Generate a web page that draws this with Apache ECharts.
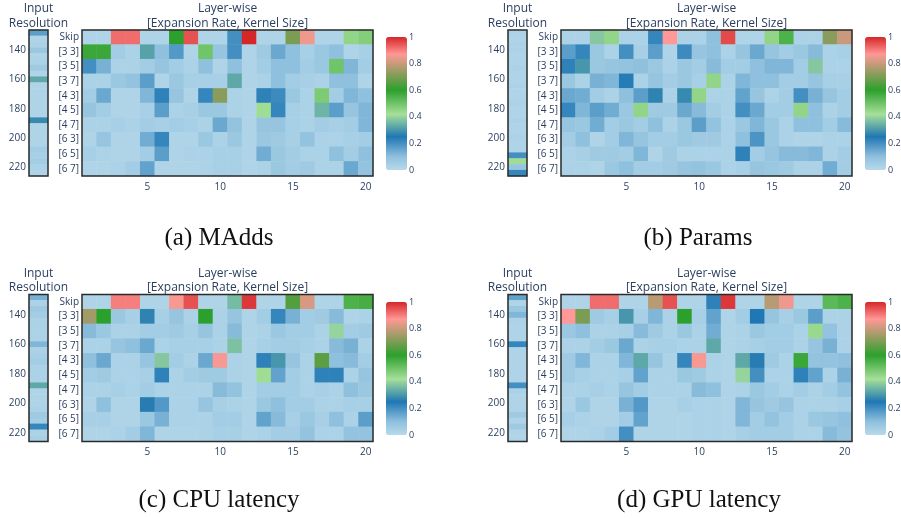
<!DOCTYPE html>
<html><head><meta charset="utf-8">
<script src="https://cdn.jsdelivr.net/npm/echarts/dist/echarts.min.js"></script>
<style>html,body{margin:0;padding:0;background:#fff}#c{width:901px;height:519px}</style>
</head><body><div id="c"></div><script>
// ---------- data ----------
const layers = ['1','2','3','4','5','6','7','8','9','10','11','12','13','14','15','16','17','18','19','20'];
const ops = ['Skip','[3 3]','[3 5]','[3 7]','[4 3]','[4 5]','[4 7]','[6 3]','[6 5]','[6 7]'];
const resolutions = [128,132,136,140,144,148,152,156,160,164,168,172,176,180,184,188,192,196,200,204,208,212,216,220,224];
const layerTicks = ['5','10','15','20'];
const resTicks = [140,160,180,200,220];
const colorbarTicks = [0,0.2,0.4,0.6,0.8,1];
const captions = ['(a) MAdds','(b) Params','(c) CPU latency','(d) GPU latency'];

const maddsRes = [0.17,0.02,0.03,0.07,0.02,0.03,0.06,0.02,0.33,0.02,0.02,0.02,0.02,0.02,0.02,0.28,0.02,0.02,0.02,0.02,0.05,0.04,0.05,0.03,0.02];
const maddsOps = [
 [0.02,0.02,0.92,0.92,0.02,0.02,0.6,0.95,0.02,0.02,0.2,1.0,0.02,0.02,0.7,0.85,0.02,0.02,0.45,0.47],
 [0.58,0.58,0.05,0.03,0.32,0.1,0.18,0.02,0.5,0.08,0.2,0.02,0.06,0.15,0.1,0.04,0.07,0.1,0.02,0.04],
 [0.2,0.13,0.03,0.03,0.05,0.08,0.05,0.03,0.1,0.02,0.1,0.02,0.05,0.1,0.1,0.05,0.07,0.5,0.12,0.05],
 [0.03,0.03,0.07,0.09,0.17,0.02,0.07,0.04,0.04,0.04,0.33,0.02,0.03,0.1,0.05,0.04,0.03,0.1,0.1,0.02],
 [0.05,0.15,0.02,0.02,0.12,0.23,0.08,0.02,0.22,0.72,0.03,0.02,0.23,0.21,0.07,0.03,0.48,0.05,0.12,0.1],
 [0.08,0.05,0.02,0.02,0.04,0.17,0.03,0.04,0.07,0.07,0.03,0.02,0.43,0.22,0.04,0.03,0.35,0.17,0.08,0.12],
 [0.03,0.03,0.04,0.03,0.05,0.04,0.05,0.04,0.03,0.15,0.09,0.02,0.08,0.08,0.04,0.03,0.05,0.04,0.05,0.12],
 [0.02,0.08,0.02,0.02,0.14,0.22,0.02,0.02,0.07,0.03,0.07,0.02,0.07,0.06,0.04,0.09,0.03,0.03,0.04,0.05],
 [0.04,0.03,0.02,0.02,0.05,0.17,0.02,0.03,0.03,0.04,0.04,0.02,0.14,0.07,0.05,0.03,0.03,0.1,0.05,0.1],
 [0.02,0.02,0.03,0.05,0.16,0.02,0.02,0.02,0.03,0.04,0.04,0.02,0.03,0.07,0.05,0.06,0.03,0.03,0.15,0.09]
];

const paramsRes = [0.03,0.02,0.03,0.03,0.02,0.02,0.03,0.02,0.02,0.03,0.02,0.02,0.03,0.02,0.02,0.03,0.02,0.02,0.03,0.02,0.02,0.2,0.43,0.08,0.22];
const paramsOps = [
 [0.03,0.03,0.38,0.45,0.03,0.03,0.22,0.87,0.03,0.03,0.1,0.96,0.02,0.02,0.45,0.55,0.03,0.03,0.72,0.8],
 [0.17,0.22,0.07,0.03,0.2,0.04,0.17,0.02,0.21,0.08,0.1,0.03,0.08,0.15,0.08,0.05,0.07,0.11,0.03,0.04],
 [0.23,0.3,0.07,0.08,0.09,0.1,0.07,0.03,0.07,0.05,0.11,0.05,0.05,0.1,0.12,0.12,0.05,0.38,0.03,0.03],
 [0.07,0.03,0.13,0.12,0.24,0.03,0.08,0.05,0.07,0.04,0.45,0.03,0.12,0.1,0.1,0.05,0.05,0.08,0.04,0.04],
 [0.15,0.14,0.05,0.03,0.1,0.17,0.27,0.03,0.28,0.45,0.03,0.03,0.16,0.08,0.03,0.05,0.2,0.13,0.08,0.05],
 [0.22,0.12,0.17,0.14,0.07,0.45,0.06,0.06,0.15,0.11,0.05,0.03,0.2,0.15,0.05,0.05,0.45,0.1,0.03,0.05],
 [0.08,0.07,0.14,0.05,0.07,0.05,0.1,0.03,0.07,0.17,0.09,0.03,0.07,0.12,0.07,0.03,0.1,0.1,0.05,0.11],
 [0.05,0.1,0.02,0.05,0.12,0.08,0.05,0.05,0.07,0.06,0.06,0.03,0.1,0.19,0.07,0.03,0.02,0.02,0.03,0.03],
 [0.03,0.04,0.06,0.06,0.05,0.12,0.02,0.06,0.03,0.03,0.03,0.03,0.23,0.05,0.08,0.11,0.11,0.12,0.03,0.05],
 [0.03,0.03,0.02,0.07,0.1,0.05,0.05,0.06,0.08,0.09,0.07,0.03,0.04,0.08,0.07,0.06,0.03,0.03,0.14,0.05]
];

const cpuRes = [0.13,0.03,0.06,0.05,0.03,0.03,0.03,0.03,0.12,0.03,0.04,0.05,0.03,0.03,0.03,0.33,0.02,0.02,0.02,0.03,0.06,0.05,0.22,0.03,0.04];
const cpuOps = [
 [0.02,0.02,0.9,0.9,0.02,0.02,0.86,0.95,0.02,0.02,0.36,0.98,0.02,0.02,0.65,0.82,0.02,0.02,0.55,0.56],
 [0.75,0.6,0.07,0.04,0.27,0.04,0.08,0.03,0.6,0.03,0.08,0.02,0.05,0.22,0.13,0.05,0.06,0.11,0.02,0.03],
 [0.11,0.07,0.03,0.03,0.05,0.05,0.06,0.04,0.08,0.03,0.11,0.02,0.03,0.07,0.05,0.05,0.03,0.4,0.05,0.06],
 [0.03,0.03,0.08,0.1,0.15,0.03,0.04,0.04,0.04,0.03,0.37,0.02,0.04,0.05,0.05,0.04,0.03,0.11,0.13,0.03],
 [0.1,0.15,0.03,0.03,0.08,0.38,0.05,0.03,0.15,0.86,0.03,0.02,0.23,0.3,0.08,0.03,0.66,0.1,0.11,0.05],
 [0.05,0.06,0.03,0.03,0.04,0.23,0.03,0.05,0.06,0.06,0.03,0.02,0.43,0.16,0.05,0.03,0.23,0.23,0.03,0.08],
 [0.03,0.03,0.04,0.03,0.05,0.03,0.03,0.03,0.03,0.11,0.09,0.02,0.05,0.05,0.05,0.03,0.04,0.03,0.1,0.07],
 [0.02,0.1,0.02,0.02,0.26,0.18,0.03,0.03,0.08,0.04,0.03,0.02,0.07,0.1,0.05,0.05,0.03,0.03,0.04,0.04],
 [0.04,0.04,0.02,0.02,0.07,0.13,0.03,0.03,0.03,0.05,0.05,0.02,0.16,0.11,0.04,0.07,0.04,0.1,0.03,0.17],
 [0.02,0.02,0.03,0.05,0.12,0.02,0.02,0.02,0.03,0.04,0.04,0.02,0.03,0.05,0.05,0.09,0.03,0.03,0.09,0.09]
];

const gpuRes = [0.16,0.02,0.07,0.12,0.03,0.02,0.02,0.02,0.22,0.02,0.02,0.02,0.02,0.02,0.02,0.2,0.03,0.02,0.02,0.02,0.06,0.02,0.06,0.02,0.02];
const gpuOps = [
 [0.02,0.02,0.92,0.92,0.02,0.02,0.78,0.95,0.02,0.02,0.23,0.98,0.02,0.02,0.78,0.85,0.02,0.02,0.53,0.55],
 [0.87,0.7,0.06,0.04,0.3,0.04,0.12,0.03,0.6,0.04,0.16,0.02,0.05,0.25,0.08,0.04,0.07,0.17,0.03,0.03],
 [0.07,0.1,0.03,0.03,0.04,0.11,0.06,0.03,0.07,0.03,0.14,0.02,0.03,0.07,0.05,0.05,0.03,0.44,0.09,0.03],
 [0.03,0.03,0.05,0.07,0.15,0.03,0.04,0.04,0.03,0.03,0.33,0.02,0.03,0.04,0.05,0.05,0.03,0.08,0.13,0.03],
 [0.06,0.12,0.03,0.03,0.12,0.33,0.08,0.03,0.22,0.86,0.03,0.02,0.33,0.26,0.06,0.03,0.58,0.09,0.09,0.1],
 [0.06,0.04,0.03,0.03,0.04,0.16,0.03,0.03,0.07,0.06,0.03,0.02,0.4,0.2,0.03,0.03,0.23,0.16,0.03,0.13],
 [0.03,0.03,0.04,0.03,0.08,0.05,0.03,0.03,0.03,0.11,0.1,0.02,0.03,0.07,0.05,0.03,0.05,0.03,0.05,0.09],
 [0.02,0.07,0.02,0.02,0.13,0.18,0.02,0.02,0.04,0.03,0.03,0.02,0.12,0.08,0.06,0.08,0.03,0.03,0.03,0.04],
 [0.04,0.03,0.02,0.02,0.05,0.16,0.02,0.02,0.02,0.03,0.03,0.02,0.12,0.05,0.09,0.05,0.03,0.07,0.08,0.1],
 [0.02,0.02,0.03,0.05,0.2,0.02,0.02,0.02,0.02,0.03,0.03,0.02,0.04,0.05,0.05,0.05,0.03,0.03,0.11,0.09]
];

// ---------- style ----------
const colorStops = [[0,'#b7d9ea'],[0.1,'#8fc0dd'],[0.25,'#1f77b4'],[0.42,'#a6e09a'],[0.6,'#2ca02c'],[0.87,'#ff9896'],[1,'#d62728']];
function h2r(h){return [parseInt(h.slice(1,3),16),parseInt(h.slice(3,5),16),parseInt(h.slice(5,7),16)];}
function scaleColor(v){
  for(let i=1;i<colorStops.length;i++){
    if(v<=colorStops[i][0]){
      const a=colorStops[i-1], b=colorStops[i];
      const t=(v-a[0])/(b[0]-a[0]); const ca=h2r(a[1]), cb=h2r(b[1]);
      return 'rgb('+ca.map((c,k)=>Math.round(c+(cb[k]-c)*t)).join(',')+')';
    }
  }
  return colorStops[colorStops.length-1][1];
}
const colorList=[]; for(let i=0;i<=100;i++) colorList.push(scaleColor(i/100));

const TXT='#2a3f5f', FONT='"Open Sans", sans-serif';
const panels = [
  {res:maddsRes, ops:maddsOps, sx:29, mx:82, top:30, h:146, cbx:386, cby:37, cbh:133, capx:219, capy:238},
  {res:paramsRes, ops:paramsOps, sx:508, mx:561, top:30, h:146, cbx:865, cby:37, cbh:133, capx:698, capy:238},
  {res:cpuRes, ops:cpuOps, sx:29, mx:82, top:294.5, h:147, cbx:386, cby:302, cbh:133, capx:219, capy:500},
  {res:gpuRes, ops:gpuOps, sx:508, mx:561, top:294.5, h:147, cbx:865, cby:302, cbh:133, capx:699, capy:500}
];
const SW=19, MW=291, CBW=21;

const grid=[], xAxis=[], yAxis=[], series=[], visualMap=[], graphic=[];
panels.forEach((p,pi)=>{
  const g0=grid.length;
  grid.push({left:p.sx, top:p.top, width:SW, height:p.h, outerBoundsMode:'none'});
  grid.push({left:p.mx, top:p.top, width:MW, height:p.h, outerBoundsMode:'none'});
  grid.push({left:p.cbx, top:p.cby, width:CBW, height:p.cbh, outerBoundsMode:'none'});
  // strip axes
  xAxis.push({type:'category', gridIndex:g0, data:['r'], show:false});
  yAxis.push({type:'category', gridIndex:g0, data:resolutions.map(String), inverse:true,
    axisLine:{show:false}, axisTick:{show:false},
    axisLabel:{fontSize:10, color:TXT, fontFamily:FONT, margin:3,
      interval:(i,v)=>resTicks.indexOf(+v)>=0}});
  // main axes
  xAxis.push({type:'category', gridIndex:g0+1, data:layers,
    axisLine:{show:false}, axisTick:{show:false},
    axisLabel:{fontSize:10, color:TXT, fontFamily:FONT, margin:6,
      interval:(i,v)=>layerTicks.indexOf(v)>=0}});
  yAxis.push({type:'category', gridIndex:g0+1, data:ops, inverse:true,
    axisLine:{show:false}, axisTick:{show:false},
    axisLabel:{fontSize:10, color:TXT, fontFamily:FONT, margin:3}});
  // colorbar tick axis
  xAxis.push({type:'value', gridIndex:g0+2, show:false, min:0, max:1});
  yAxis.push({type:'value', gridIndex:g0+2, position:'right', min:0, max:1, interval:0.2,
    axisLine:{show:false}, axisTick:{show:false}, splitLine:{show:false},
    axisLabel:{fontSize:9, color:TXT, fontFamily:FONT, margin:2,
      formatter:v=>String(+(+v).toFixed(1)),
      customValues:colorbarTicks}});
  const s0=series.length;
  series.push({type:'heatmap', xAxisIndex:g0, yAxisIndex:g0, silent:true,
    data:p.res.map((v,i)=>[0,i,v]), emphasis:{disabled:true}});
  const md=[]; p.ops.forEach((row,r)=>row.forEach((v,c)=>md.push([c,r,v])));
  series.push({type:'heatmap', xAxisIndex:g0+1, yAxisIndex:g0+1, silent:true,
    data:md, emphasis:{disabled:true}});
  visualMap.push({type:'continuous', min:0, max:1, seriesIndex:[s0,s0+1], calculable:false,
    orient:'vertical', left:p.cbx, top:p.cby, itemWidth:CBW, itemHeight:p.cbh, padding:0,
    text:null, hoverLink:false, inRange:{color:colorList}});
  // borders
  [[p.sx,SW],[p.mx,MW]].forEach(([x,w])=>graphic.push({type:'rect', z:100,
    shape:{x:x, y:p.top, width:w, height:p.h}, style:{fill:'none', stroke:'#2b2b2b', lineWidth:1.5}}));
  // titles
  const tstyle=(t,x,y)=>({type:'text', x:x, y:y, z:100,
    style:{text:t, fill:TXT, font:'12px '+FONT, align:'center', verticalAlign:'middle'}});
  graphic.push(tstyle('Input', p.sx+SW/2, p.top-21));
  graphic.push(tstyle('Resolution', p.sx+SW/2, p.top-6.7));
  graphic.push(tstyle('Layer-wise', p.mx+MW/2, p.top-21));
  graphic.push(tstyle('[Expansion Rate, Kernel Size]', p.mx+MW/2, p.top-6.7));
  graphic.push({type:'text', x:p.capx, y:p.capy, z:100,
    style:{text:captions[pi], fill:'#111', font:'25px "Liberation Serif", serif', align:'center', verticalAlign:'middle'}});
});

const chart=echarts.init(document.getElementById('c'));
chart.setOption({animation:false, grid, xAxis, yAxis, series, visualMap, graphic});
</script></body></html>
